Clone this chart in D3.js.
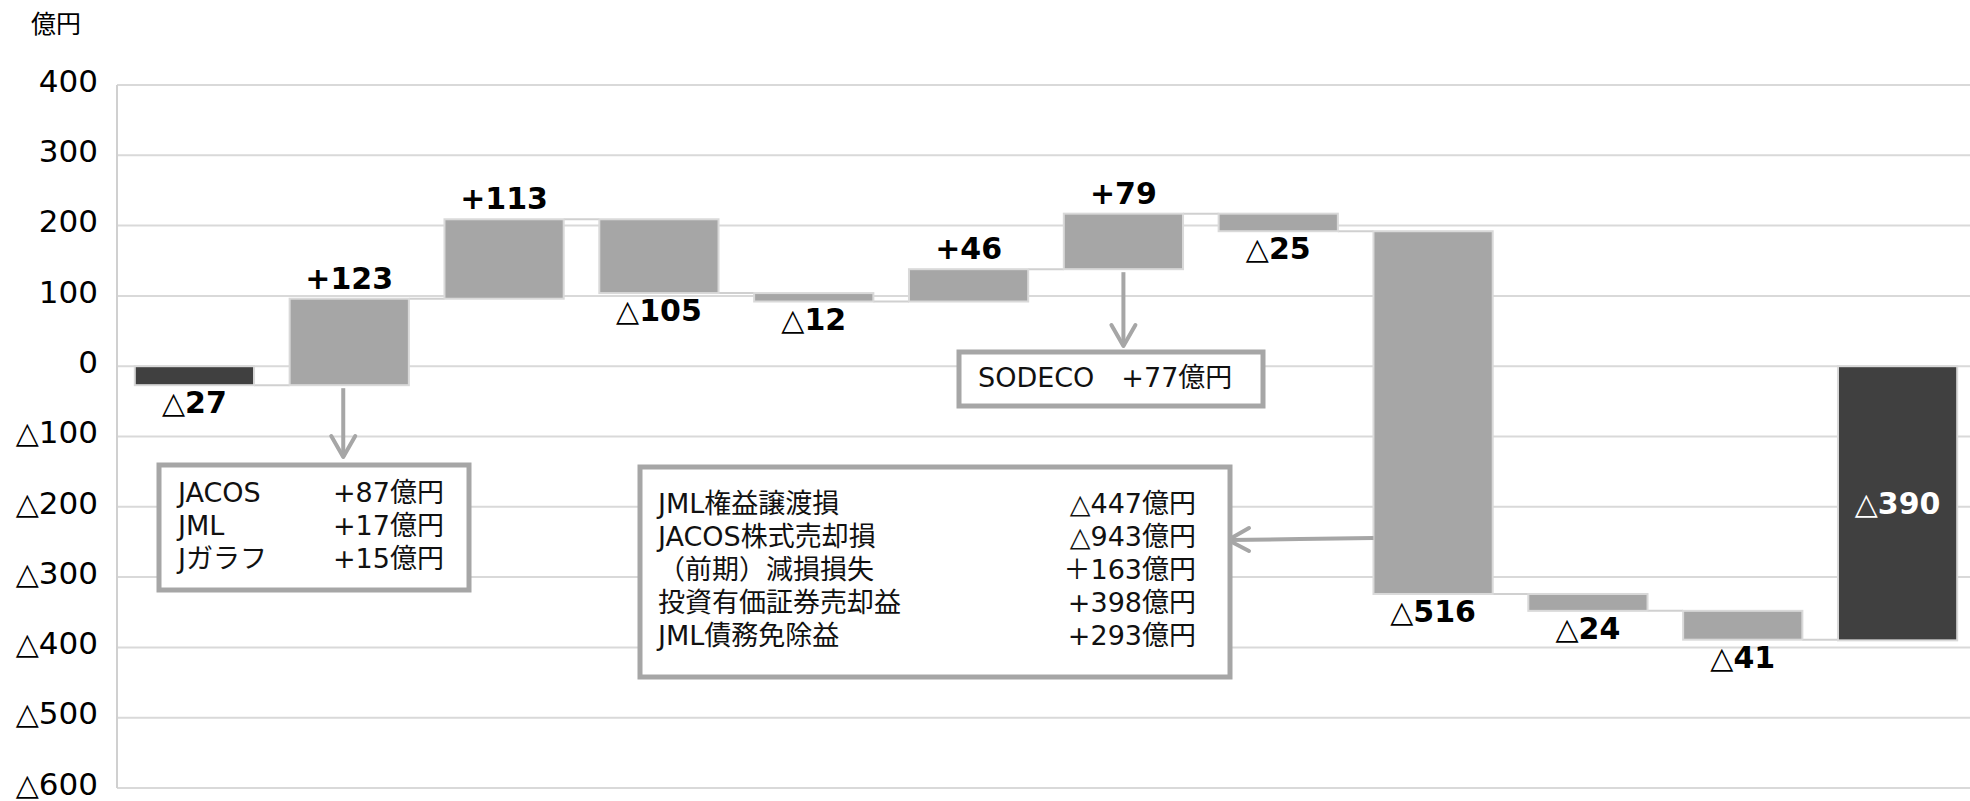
<!DOCTYPE html>
<html>
<head>
<meta charset="utf-8">
<script src="https://cdn.jsdelivr.net/npm/d3@7"></script>
<style>
  body { margin: 0; background: #fff; overflow: hidden; }
  svg { display: block; }
  text { font-family: "DejaVu Sans", "Noto Sans CJK JP", sans-serif; }
</style>
</head>
<body>
<div id="chart"></div>
<script>
// waterfall steps (億円); first and last are totals drawn from zero
var steps = [-27, 123, 113, -105, -12, 46, 79, -25, -516, -24, -41, -390];
var stepKinds = ["total", "delta", "delta", "delta", "delta", "delta", "delta", "delta", "delta", "delta", "delta", "total"];
var yTicks = [400, 300, 200, 100, 0, -100, -200, -300, -400, -500, -600];
var unitLabel = "億円";

// callout boxes
var leftNames = ["JACOS", "JML", "Jガラフ"];
var leftValues = ["+87億円", "+17億円", "+15億円"];
var midNames = ["JML権益譲渡損", "JACOS株式売却損", "（前期）減損損失", "投資有価証券売却益", "JML債務免除益"];
var midValues = ["△447億円", "△943億円", "＋163億円", "+398億円", "+293億円"];
var sodecoText = "SODECO　+77億円";

function createChart() {
    var width = 1970, height = 801;
    var svg = d3.select("#chart").append("svg")
        .attr("width", width)
        .attr("height", height);

    // running totals
    var bars = [];
    var run = 0;
    steps.forEach(function (v, i) {
        var start, end;
        if (stepKinds[i] === "total") { start = 0; end = v; }
        else { start = run; end = run + v; }
        run = end;
        bars.push({ i: i, v: v, start: start, end: end, kind: stepKinds[i] });
    });

    var x = d3.scaleBand()
        .domain(bars.map(function (d) { return d.i; }))
        .range([117, 1975])
        .paddingInner(0.23)
        .paddingOuter(0.115);

    var y = d3.scaleLinear()
        .domain([-600, 400])
        .range([788, 85]);

    // grid
    svg.append("g").selectAll("line")
        .data(yTicks)
        .enter().append("line")
        .attr("x1", 117).attr("x2", width)
        .attr("y1", function (d) { return y(d); })
        .attr("y2", function (d) { return y(d); })
        .attr("stroke", "#d9d9d9")
        .attr("stroke-width", 2);

    svg.append("line")
        .attr("x1", 117).attr("x2", 117)
        .attr("y1", y(400)).attr("y2", y(-600))
        .attr("stroke", "#d0d0d0")
        .attr("stroke-width", 2);

    // y axis labels
    var yAxis = d3.axisLeft(y)
        .tickValues(yTicks)
        .tickSize(0)
        .tickPadding(19);
    var ga = svg.append("g")
        .attr("transform", "translate(117,0)")
        .call(yAxis);
    ga.select(".domain").remove();
    ga.selectAll("text")
        .attr("font-size", 31)
        .attr("fill", "#000")
        .attr("dy", "0.2em")
        .attr("font-family", "DejaVu Sans, Noto Sans CJK JP")
        .each(function (d) {
            var t = d3.select(this).text(null);
            if (d < 0) t.append("tspan").attr("font-size", 30).text("△");
            t.append("tspan").text(Math.abs(d));
        });

    svg.append("text")
        .attr("x", 31).attr("y", 33)
        .attr("font-size", 25)
        .attr("font-family", "Noto Sans CJK JP")
        .attr("fill", "#000")
        .text(unitLabel);

    // connectors
    svg.append("g").selectAll("line")
        .data(bars.slice(0, bars.length - 1))
        .enter().append("line")
        .attr("x1", function (d) { return x(d.i) + x.bandwidth(); })
        .attr("x2", function (d) { return x(d.i + 1); })
        .attr("y1", function (d) { return y(d.end); })
        .attr("y2", function (d) { return y(d.end); })
        .attr("stroke", "#d0d0d0")
        .attr("stroke-width", 2);

    // bars
    svg.append("g").selectAll("rect")
        .data(bars)
        .enter().append("rect")
        .attr("x", function (d) { return x(d.i); })
        .attr("y", function (d) { return y(Math.max(d.start, d.end)); })
        .attr("width", x.bandwidth())
        .attr("height", function (d) { return Math.abs(y(d.start) - y(d.end)); })
        .attr("fill", function (d) { return d.kind === "total" ? "#404040" : "#a6a6a6"; })
        .attr("stroke", "#d9d9d9")
        .attr("stroke-width", 2);

    // value labels
    var labels = svg.append("g").selectAll("text")
        .data(bars)
        .enter().append("text")
        .attr("x", function (d) { return x(d.i) + x.bandwidth() / 2; })
        .attr("y", function (d) {
            if (d.i === bars.length - 1) return (y(d.start) + y(d.end)) / 2 + 11;
            if (d.v > 0) return y(Math.max(d.start, d.end)) - 10;
            return y(Math.min(d.start, d.end)) + 28;
        })
        .attr("text-anchor", "middle")
        .attr("font-size", 30)
        .attr("font-weight", "bold")
        .attr("fill", function (d) { return d.i === bars.length - 1 ? "#fff" : "#000"; });
    labels.append("tspan")
        .attr("font-weight", function (d) { return d.v < 0 ? "normal" : "bold"; })
        .text(function (d) { return d.v < 0 ? "△" : "+"; });
    labels.append("tspan")
        .text(function (d) { return Math.abs(d.v); });

    var grey = "#a6a6a6";
    var boxFont = 27;

    function arrowDown(cx, y0, y1) {
        svg.append("line")
            .attr("x1", cx).attr("x2", cx).attr("y1", y0).attr("y2", y1)
            .attr("stroke", grey).attr("stroke-width", 4);
        svg.append("path")
            .attr("d", "M" + (cx - 12) + "," + (y1 - 21) + "L" + cx + "," + y1 + "L" + (cx + 12) + "," + (y1 - 21))
            .attr("fill", "none").attr("stroke", grey).attr("stroke-width", 4)
            .attr("stroke-linecap", "round").attr("stroke-linejoin", "round");
    }

    function box(x0, y0, w, h) {
        svg.append("rect")
            .attr("x", x0).attr("y", y0).attr("width", w).attr("height", h)
            .attr("fill", "#fff").attr("stroke", grey).attr("stroke-width", 5);
    }

    // left callout (from +123 bar)
    arrowDown(x(1) + x.bandwidth() / 2 - 6, y(bars[1].start) + 3, 457);
    box(159, 465, 310, 125);
    leftNames.forEach(function (t, i) {
        svg.append("text").attr("x", 178).attr("y", 492 + i * 33)
            .attr("dominant-baseline", "central")
            .attr("font-size", boxFont).attr("fill", "#111").text(t);
        svg.append("text").attr("x", 333).attr("y", 492 + i * 33)
            .attr("dominant-baseline", "central")
            .attr("font-size", boxFont).attr("fill", "#111").text(leftValues[i]);
    });

    // SODECO callout (from +79 bar)
    arrowDown(x(6) + x.bandwidth() / 2, y(bars[6].start) + 3, 346);
    box(959, 352, 304, 54);
    svg.append("text").attr("x", 978).attr("y", 377)
        .attr("dominant-baseline", "central")
        .attr("font-size", boxFont).attr("fill", "#111").text(sodecoText);

    // middle callout (from △516 bar)
    var ax = x(8), ay = 538;
    svg.append("path")
        .attr("d", "M" + ax + "," + ay + "L1300," + (ay + 1) + "L1229," + (ay + 2))
        .attr("fill", "none").attr("stroke", grey).attr("stroke-width", 4);
    svg.append("path")
        .attr("d", "M1249,528L1228,540L1249,551")
        .attr("fill", "none").attr("stroke", grey).attr("stroke-width", 4)
        .attr("stroke-linecap", "round").attr("stroke-linejoin", "round");
    box(640, 467, 590, 210);
    midNames.forEach(function (t, i) {
        svg.append("text").attr("x", 658).attr("y", 503 + i * 33)
            .attr("dominant-baseline", "central")
            .attr("font-size", boxFont).attr("fill", "#111").text(t);
        svg.append("text").attr("x", 1196).attr("y", 503 + i * 33)
            .attr("dominant-baseline", "central")
            .attr("text-anchor", "end")
            .attr("font-size", boxFont).attr("fill", "#111").text(midValues[i]);
    });
}

createChart();
</script>
</body>
</html>
